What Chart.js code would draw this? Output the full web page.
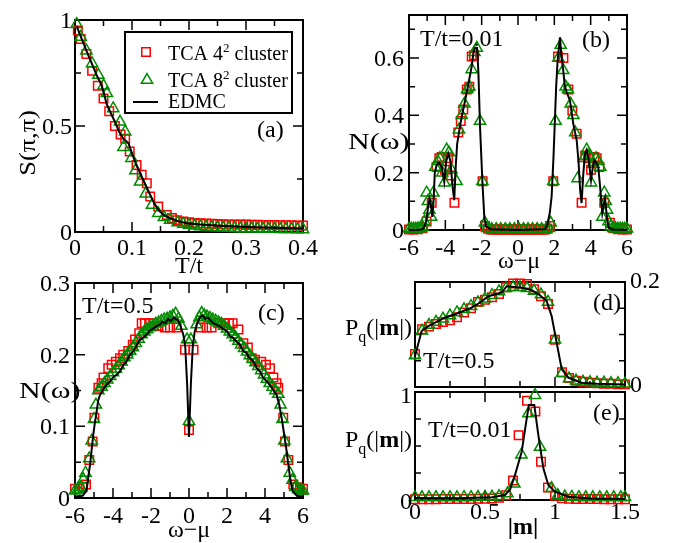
<!DOCTYPE html>
<html>
<head>
<meta charset="utf-8">
<title>Spin structure factor, density of states and P(|m|)</title>
<script src="https://cdn.jsdelivr.net/npm/chart.js@4.4.1/dist/chart.umd.min.js"></script>
<style>
  html, body { margin: 0; padding: 0; background: #fff; }
  #fig { position: relative; width: 674px; height: 543px; overflow: hidden; }
  #fig canvas { position: absolute; left: 0; top: 0; }
</style>
</head>
<body>
<div id="fig">
  <canvas id="panelA" width="674" height="543"></canvas>
  <canvas id="panelB" width="674" height="543"></canvas>
  <canvas id="panelC" width="674" height="543"></canvas>
  <canvas id="panelD" width="674" height="543"></canvas>
  <canvas id="panelE" width="674" height="543"></canvas>
</div>
<script>
const W = 674, H = 543;
const SERIF = '"Liberation Serif", "Times New Roman", serif';
const RED = '#ff0000';
const GREEN = '#008b00';
const FONT = 24;
const MAJOR = 10, MINOR = 6;

// (a) S(pi,pi) vs T/t
const aXTicks = [0, 0.1, 0.2, 0.3, 0.4];
const aXMinor = [0.05, 0.15, 0.25, 0.35];
const aYTicks = [0, 0.5, 1];
const aYMinor = [0.25, 0.75];
const aRed = [
  [0.005, 0.95], [0.01, 0.91], [0.02, 0.84], [0.03, 0.76], [0.04, 0.69], [0.05, 0.63],
  [0.06, 0.57], [0.07, 0.50], [0.08, 0.46], [0.088, 0.44], [0.096, 0.38], [0.108, 0.316],
  [0.117, 0.27], [0.126, 0.23], [0.132, 0.167], [0.146, 0.12], [0.161, 0.08], [0.17, 0.066],
  [0.179, 0.056], [0.19, 0.05], [0.20, 0.046], [0.21, 0.043], [0.22, 0.041], [0.23, 0.040],
  [0.24, 0.039], [0.25, 0.038], [0.26, 0.037], [0.27, 0.036], [0.28, 0.036], [0.29, 0.035],
  [0.30, 0.035], [0.31, 0.034], [0.32, 0.034], [0.33, 0.033], [0.34, 0.033], [0.35, 0.033],
  [0.36, 0.032], [0.37, 0.032], [0.38, 0.032], [0.39, 0.031], [0.40, 0.031]
];
const aGreen = [
  [0.003, 0.98], [0.01, 0.92], [0.02, 0.855], [0.03, 0.795], [0.041, 0.74], [0.05, 0.69],
  [0.056, 0.654], [0.067, 0.583], [0.079, 0.52], [0.088, 0.473], [0.085, 0.40], [0.099, 0.348],
  [0.106, 0.29], [0.114, 0.237], [0.124, 0.18], [0.135, 0.127], [0.146, 0.088], [0.156, 0.07],
  [0.167, 0.057], [0.18, 0.045], [0.19, 0.038], [0.20, 0.033], [0.21, 0.029], [0.22, 0.026],
  [0.23, 0.024], [0.24, 0.022], [0.25, 0.021], [0.26, 0.020], [0.27, 0.019], [0.28, 0.018],
  [0.29, 0.017], [0.30, 0.016], [0.31, 0.016], [0.32, 0.015], [0.33, 0.015], [0.34, 0.014],
  [0.35, 0.014], [0.36, 0.013], [0.37, 0.013], [0.38, 0.013], [0.39, 0.012], [0.40, 0.012]
];
const aLine = [
  [0.003, 0.97], [0.02, 0.855], [0.038, 0.74], [0.047, 0.69], [0.056, 0.60], [0.07, 0.52],
  [0.078, 0.47], [0.085, 0.44], [0.094, 0.418], [0.1, 0.37], [0.108, 0.316], [0.12, 0.245],
  [0.132, 0.175], [0.14, 0.13], [0.149, 0.096], [0.158, 0.076], [0.167, 0.065], [0.18, 0.052],
  [0.196, 0.041], [0.22, 0.035], [0.254, 0.03], [0.3, 0.024], [0.35, 0.02], [0.4, 0.017]
];

// (b) N(w) at T/t=0.01
const bXTicks = [-6, -4, -2, 0, 2, 4, 6];
const bXMinor = [-5, -3, -1, 1, 3, 5];
const bYTicks = [0, 0.2, 0.4, 0.6];
const bYMinor = [0.1, 0.3, 0.5, 0.7];
const bRed = [
  [-6.0, 0.002], [-5.75, 0.002], [-5.5, 0.003], [-5.25, 0.006], [-5.03, 0.03], [-4.75, 0.095],
  [-4.48, 0.22], [-4.33, 0.25], [-4.2, 0.255], [-4.02, 0.21], [-3.85, 0.25], [-3.68, 0.19],
  [-3.5, 0.095], [-3.29, 0.34], [-3.15, 0.38], [-3.01, 0.42], [-2.82, 0.49], [-2.68, 0.5],
  [-2.55, 0.605], [-2.42, 0.61], [-1.95, 0.17], [-1.82, 0.014], [-1.65, 0.004], [-1.5, 0.002],
  [-1.375, 0.002], [-1.25, 0.002], [-1.125, 0.002], [-1.0, 0.002], [-0.875, 0.002], [-0.75, 0.002],
  [-0.625, 0.002], [-0.5, 0.002], [-0.375, 0.002], [-0.25, 0.002], [-0.125, 0.002], [0, 0.002],
  [0.125, 0.002], [0.25, 0.002], [0.375, 0.002], [0.5, 0.002], [0.625, 0.002], [0.75, 0.002],
  [0.875, 0.002], [1.0, 0.002], [1.125, 0.002], [1.25, 0.002], [1.375, 0.002], [1.5, 0.002],
  [1.62, 0.004], [1.76, 0.014], [1.94, 0.17], [2.2, 0.605], [2.5, 0.6], [2.77, 0.49],
  [2.99, 0.417], [3.23, 0.336], [3.5, 0.095], [3.7, 0.26], [3.87, 0.25], [4.02, 0.21],
  [4.2, 0.255], [4.33, 0.25], [4.48, 0.22], [4.75, 0.095], [5.06, 0.025], [5.25, 0.006],
  [5.5, 0.003], [5.75, 0.002], [6.0, 0.002]
];
const bGreen = [
  [-6.0, 0.004], [-5.875, 0.004], [-5.75, 0.004], [-5.625, 0.004], [-5.5, 0.005], [-5.375, 0.006],
  [-5.25, 0.01], [-5.15, 0.03], [-5.03, 0.13], [-4.96, 0.1], [-4.88, 0.07], [-4.78, 0.045],
  [-4.66, 0.13], [-4.55, 0.22], [-4.42, 0.24], [-4.3, 0.25], [-4.17, 0.2], [-4.05, 0.165],
  [-3.93, 0.28], [-3.8, 0.27], [-3.66, 0.21], [-3.38, 0.17], [-3.25, 0.35], [-3.1, 0.4],
  [-2.95, 0.44], [-2.8, 0.49], [-2.68, 0.5], [-2.55, 0.56], [-2.4, 0.62], [-2.27, 0.635],
  [-2.09, 0.38], [-1.96, 0.17], [-1.82, 0.025], [-1.7, 0.006], [-1.45, 0.003], [-1.2, 0.003],
  [-0.95, 0.003], [-0.7, 0.003], [-0.45, 0.003], [-0.2, 0.003], [0.05, 0.003], [0.3, 0.003],
  [0.55, 0.003], [0.8, 0.003], [1.05, 0.003], [1.3, 0.003], [1.55, 0.003], [1.7, 0.006],
  [1.8, 0.025], [1.94, 0.17], [2.07, 0.38], [2.22, 0.6], [2.35, 0.645], [2.49, 0.557],
  [2.62, 0.5], [2.75, 0.49], [2.9, 0.44], [3.05, 0.4], [3.15, 0.34], [3.28, 0.18],
  [3.62, 0.25], [3.78, 0.28], [3.9, 0.26], [4.02, 0.165], [4.15, 0.23], [4.3, 0.25],
  [4.42, 0.24], [4.53, 0.22], [4.64, 0.045], [4.75, 0.13], [4.83, 0.1], [4.9, 0.07],
  [4.98, 0.03], [5.1, 0.012], [5.25, 0.006], [5.375, 0.005], [5.5, 0.004], [5.625, 0.004],
  [5.75, 0.004], [5.875, 0.004], [6.0, 0.004]
];
const bLine = [
  [-6, 0], [-5.4, 0.001], [-5.2, 0.005], [-5.05, 0.03], [-4.95, 0.08], [-4.87, 0.11],
  [-4.8, 0.09], [-4.72, 0.046], [-4.65, 0.1], [-4.58, 0.2], [-4.48, 0.226], [-4.35, 0.235],
  [-4.2, 0.22], [-4.06, 0.168], [-3.95, 0.24], [-3.84, 0.267], [-3.72, 0.24], [-3.6, 0.15],
  [-3.51, 0.104], [-3.43, 0.22], [-3.35, 0.3], [-3.2, 0.36], [-3.1, 0.394], [-2.95, 0.44],
  [-2.82, 0.48], [-2.7, 0.52], [-2.55, 0.57], [-2.45, 0.62], [-2.38, 0.635], [-2.25, 0.635],
  [-2.18, 0.55], [-2.09, 0.36], [-1.96, 0.168], [-1.85, 0.04], [-1.75, 0.012], [-1.5, 0.003],
  [0, 0], [1.5, 0.003], [1.62, 0.02], [1.75, 0.06], [1.85, 0.116], [1.95, 0.25],
  [2.03, 0.38], [2.1, 0.5], [2.18, 0.59], [2.31, 0.672], [2.4, 0.6], [2.49, 0.557],
  [2.58, 0.5], [2.68, 0.481], [2.86, 0.452], [3.04, 0.372], [3.23, 0.313], [3.33, 0.24],
  [3.42, 0.14], [3.5, 0.094], [3.6, 0.2], [3.69, 0.267], [3.78, 0.28], [3.9, 0.24],
  [4.02, 0.174], [4.12, 0.22], [4.2, 0.243], [4.3, 0.235], [4.42, 0.22], [4.52, 0.15],
  [4.64, 0.059], [4.72, 0.09], [4.79, 0.11], [4.87, 0.06], [4.97, 0.01], [5.2, 0.002], [6, 0]
];

// (c) N(w) at T/t=0.5
const cXTicks = [-6, -4, -2, 0, 2, 4, 6];
const cXMinor = [-5, -3, -1, 1, 3, 5];
const cYTicks = [0, 0.1, 0.2, 0.3];
const cYMinor = [0.05, 0.15, 0.25];
const cRed = [
  [-6.0, 0.013], [-5.77, 0.013], [-5.6, 0.015], [-5.42, 0.019], [-5.25, 0.053], [-5.07, 0.079],
  [-4.98, 0.112], [-4.77, 0.154], [-4.6, 0.16], [-4.5, 0.168], [-4.25, 0.181], [-4.07, 0.186],
  [-3.85, 0.19], [-3.63, 0.195], [-3.46, 0.2], [-3.2, 0.205], [-2.96, 0.214], [-2.84, 0.221],
  [-2.62, 0.23], [-2.49, 0.244], [-2.32, 0.244], [-2.1, 0.244], [-1.88, 0.244], [-1.6, 0.24],
  [-1.26, 0.238], [-1.0, 0.238], [-0.65, 0.238], [-0.21, 0.207], [0, 0.095], [0.24, 0.207],
  [0.61, 0.238], [0.93, 0.238], [1.19, 0.238], [1.54, 0.244], [1.89, 0.244], [2.1, 0.244],
  [2.3, 0.244], [2.6, 0.235], [2.86, 0.216], [3.1, 0.21], [3.3, 0.195], [3.47, 0.193],
  [3.8, 0.19], [4.05, 0.186], [4.26, 0.181], [4.44, 0.168], [4.6, 0.16], [4.7, 0.154],
  [4.96, 0.112], [5.05, 0.079], [5.23, 0.053], [5.49, 0.019], [5.7, 0.015], [5.84, 0.013],
  [6.0, 0.013]
];
const cGreen = [
  [-6.0, 0.01], [-5.85, 0.012], [-5.7, 0.015], [-5.56, 0.026], [-5.45, 0.035], [-5.25, 0.055],
  [-5.12, 0.08], [-5.0, 0.11], [-4.9, 0.13], [-4.77, 0.15], [-4.6, 0.155], [-4.45, 0.16],
  [-4.3, 0.165], [-4.15, 0.17], [-4.0, 0.175], [-3.85, 0.18], [-3.7, 0.185], [-3.55, 0.19],
  [-3.4, 0.196], [-3.25, 0.2], [-3.1, 0.205], [-2.95, 0.21], [-2.8, 0.216], [-2.65, 0.222],
  [-2.5, 0.228], [-2.35, 0.232], [-2.2, 0.235], [-2.05, 0.238], [-1.9, 0.24], [-1.75, 0.243],
  [-1.6, 0.245], [-1.45, 0.247], [-1.3, 0.249], [-1.15, 0.25], [-1.0, 0.252], [-0.85, 0.254],
  [-0.7, 0.257], [-0.55, 0.25], [-0.4, 0.24], [-0.1, 0.221], [0, 0.107], [0.1, 0.221],
  [0.4, 0.242], [0.55, 0.252], [0.67, 0.258], [0.8, 0.255], [0.95, 0.253], [1.1, 0.251],
  [1.25, 0.249], [1.4, 0.247], [1.55, 0.245], [1.7, 0.243], [1.85, 0.24], [2.0, 0.236],
  [2.15, 0.232], [2.3, 0.228], [2.45, 0.224], [2.6, 0.219], [2.75, 0.214], [2.9, 0.209],
  [3.05, 0.204], [3.2, 0.199], [3.35, 0.194], [3.5, 0.189], [3.65, 0.184], [3.8, 0.178],
  [3.95, 0.172], [4.1, 0.166], [4.25, 0.16], [4.4, 0.155], [4.55, 0.15], [4.7, 0.145],
  [4.82, 0.13], [4.92, 0.11], [5.02, 0.08], [5.15, 0.055], [5.3, 0.035], [5.45, 0.025],
  [5.6, 0.015], [5.75, 0.012], [5.9, 0.01], [6.0, 0.01]
];
const cLine = [
  [-6, 0.002], [-5.6, 0.003], [-5.45, 0.008], [-5.38, 0.012], [-5.3, 0.03], [-5.21, 0.046],
  [-5.12, 0.068], [-5.04, 0.088], [-4.95, 0.106], [-4.86, 0.121], [-4.78, 0.136], [-4.68, 0.144],
  [-4.5, 0.152], [-4.33, 0.158], [-4.15, 0.163], [-3.95, 0.17], [-3.8, 0.172], [-3.63, 0.177],
  [-3.45, 0.186], [-3.3, 0.19], [-3.1, 0.2], [-2.93, 0.205], [-2.75, 0.213], [-2.6, 0.22],
  [-2.4, 0.224], [-2.23, 0.228], [-2.05, 0.234], [-1.9, 0.236], [-1.7, 0.24], [-1.53, 0.242],
  [-1.4, 0.246], [-1.25, 0.244], [-1.1, 0.25], [-0.95, 0.247], [-0.82, 0.252], [-0.7, 0.25],
  [-0.55, 0.247], [-0.45, 0.24], [-0.3, 0.228], [-0.2, 0.212], [-0.1, 0.16], [0, 0.085],
  [0.1, 0.16], [0.2, 0.212], [0.3, 0.232], [0.45, 0.245], [0.58, 0.252], [0.72, 0.255],
  [0.85, 0.25], [1.0, 0.252], [1.15, 0.247], [1.28, 0.244], [1.45, 0.242], [1.6, 0.24],
  [1.8, 0.236], [1.98, 0.233], [2.15, 0.226], [2.3, 0.224], [2.5, 0.218], [2.68, 0.214],
  [2.85, 0.205], [3.0, 0.203], [3.2, 0.195], [3.38, 0.191], [3.55, 0.182], [3.75, 0.176],
  [3.9, 0.168], [4.09, 0.163], [4.3, 0.156], [4.45, 0.15], [4.61, 0.144], [4.75, 0.13],
  [4.88, 0.111], [5.0, 0.09], [5.14, 0.065], [5.25, 0.042], [5.35, 0.023], [5.45, 0.01],
  [5.67, 0.003], [6, 0.002]
];

// (d) P_q(|m|) at T/t=0.5
const dXTicks = [0, 0.5, 1, 1.5];
const dXMinor = [0.25, 0.75, 1.25];
const dYTicks = [0, 0.2];
const dYMinor = [0.05, 0.1, 0.15];
const dRed = [
  [0, 0.063], [0.05, 0.11], [0.1, 0.115], [0.15, 0.12], [0.2, 0.124], [0.25, 0.127],
  [0.3, 0.133], [0.35, 0.142], [0.4, 0.15], [0.45, 0.162], [0.5, 0.166], [0.55, 0.171],
  [0.6, 0.177], [0.65, 0.19], [0.7, 0.197], [0.75, 0.197], [0.8, 0.196], [0.85, 0.186],
  [0.9, 0.173], [0.95, 0.158], [1.0, 0.09], [1.05, 0.028], [1.1, 0.017], [1.15, 0.012],
  [1.2, 0.01], [1.25, 0.008], [1.3, 0.007], [1.35, 0.006], [1.4, 0.006], [1.45, 0.005], [1.5, 0.005]
];
const dGreen = [
  [0, 0.06], [0.05, 0.107], [0.1, 0.118], [0.15, 0.124], [0.2, 0.13], [0.25, 0.136],
  [0.3, 0.142], [0.35, 0.148], [0.4, 0.154], [0.45, 0.161], [0.5, 0.168], [0.55, 0.175],
  [0.6, 0.182], [0.65, 0.188], [0.7, 0.19], [0.75, 0.19], [0.8, 0.188], [0.85, 0.183],
  [0.9, 0.176], [0.95, 0.162], [1.0, 0.09], [1.05, 0.026], [1.1, 0.016], [1.15, 0.012],
  [1.2, 0.01], [1.25, 0.009], [1.3, 0.008], [1.35, 0.008], [1.4, 0.007], [1.45, 0.007], [1.5, 0.006]
];
const dLine = [
  [0, 0.059], [0.048, 0.107], [0.095, 0.116], [0.214, 0.132], [0.3, 0.14], [0.405, 0.151],
  [0.46, 0.16], [0.524, 0.173], [0.619, 0.18], [0.655, 0.192], [0.762, 0.189], [0.83, 0.185],
  [0.881, 0.177], [0.94, 0.164], [0.976, 0.135], [1.012, 0.084], [1.048, 0.034], [1.095, 0.018],
  [1.19, 0.008], [1.3, 0.006], [1.5, 0.005]
];

// (e) P_q(|m|) at T/t=0.01
const eXTicks = [0, 0.5, 1, 1.5];
const eXMinor = [0.25, 0.75, 1.25];
const eYTicks = [0, 1];
const eYMinor = [0.25, 0.5, 0.75];
const eRed = [
  [0, 0.008], [0.05, 0.008], [0.1, 0.008], [0.15, 0.008], [0.2, 0.009], [0.25, 0.009],
  [0.3, 0.009], [0.35, 0.01], [0.4, 0.01], [0.45, 0.011], [0.5, 0.012], [0.55, 0.014],
  [0.6, 0.02], [0.65, 0.045], [0.7, 0.18], [0.74, 0.6], [0.8, 0.92], [0.86, 0.82],
  [0.9, 0.355], [0.95, 0.115], [1.0, 0.04], [1.05, 0.016], [1.1, 0.012], [1.15, 0.01],
  [1.2, 0.01], [1.25, 0.009], [1.3, 0.009], [1.35, 0.008], [1.4, 0.008], [1.45, 0.008], [1.5, 0.008]
];
const eGreen = [
  [0, 0.025], [0.05, 0.025], [0.1, 0.025], [0.15, 0.025], [0.2, 0.025], [0.25, 0.025],
  [0.3, 0.025], [0.35, 0.026], [0.4, 0.026], [0.45, 0.027], [0.5, 0.028], [0.55, 0.03],
  [0.6, 0.035], [0.66, 0.06], [0.71, 0.15], [0.76, 0.42], [0.81, 0.8], [0.857, 0.97],
  [0.893, 0.49], [0.976, 0.108], [1.02, 0.045], [1.07, 0.032], [1.12, 0.028], [1.17, 0.026],
  [1.22, 0.025], [1.27, 0.025], [1.32, 0.025], [1.37, 0.025], [1.42, 0.025], [1.47, 0.025], [1.5, 0.025]
];
const eLine = [
  [0, 0.018], [0.3, 0.016], [0.55, 0.025], [0.643, 0.046], [0.68, 0.1], [0.714, 0.23],
  [0.762, 0.447], [0.798, 0.756], [0.814, 0.88], [0.852, 0.88], [0.881, 0.6], [0.917, 0.293],
  [0.952, 0.139], [1.0, 0.077], [1.095, 0.03], [1.26, 0.015], [1.5, 0.01]
];

function pts(pairs) {
  return pairs.map(p => ({ x: p[0], y: p[1] }));
}

function fontOf(size, bold) {
  return (bold ? 'bold ' : '') + size + 'px ' + SERIF;
}

// draws text made of parts: normal, subscript, superscript or bold runs
function drawRich(ctx, item) {
  const size = item.size || FONT;
  const sx = item.stretch || 1;
  const parts = typeof item.text === 'string' ? [{ t: item.text }] : item.text;
  const runs = parts.map(p => {
    const s = p.sub || p.sup ? Math.round(size * 0.65) : size;
    ctx.font = fontOf(s, p.bold || item.bold);
    return { t: p.t, font: ctx.font, w: ctx.measureText(p.t).width,
             dy: p.sub ? size * 0.28 : p.sup ? -size * 0.42 : 0 };
  });
  const total = runs.reduce((s, r) => s + r.w, 0);
  ctx.save();
  ctx.fillStyle = '#000';
  ctx.textBaseline = 'alphabetic';
  ctx.translate(item.x, item.y);
  if (item.rotate) ctx.rotate(-Math.PI / 2);
  ctx.scale(sx, 1);
  let x = item.align === 'center' ? -total / 2 : item.align === 'right' ? -total : 0;
  runs.forEach(r => {
    ctx.font = r.font;
    ctx.fillText(r.t, x, r.dy);
    x += r.w;
  });
  ctx.restore();
}

function textLayer(items) {
  return {
    id: 'textLayer',
    afterDraw(chart) {
      items.forEach(item => drawRich(chart.ctx, item));
    }
  };
}

// box frame with inward ticks on all four sides, plus the tick labels
function frameTicks(cfg) {
  return {
    id: 'frameTicks',
    beforeDatasetsDraw(chart) {
      const { ctx, chartArea: a, scales } = chart;
      ctx.save();
      ctx.strokeStyle = '#000';
      ctx.lineWidth = 1.5;
      ctx.beginPath();
      ['x', 'y'].forEach(k => {
        const s = scales[k];
        const marks = cfg[k].ticks.map(v => [v, MAJOR]).concat(cfg[k].minor.map(v => [v, MINOR]));
        marks.forEach(([v, len]) => {
          const p = s.getPixelForValue(v);
          if (k === 'x') {
            ctx.moveTo(p, a.bottom); ctx.lineTo(p, a.bottom - len);
            ctx.moveTo(p, a.top); ctx.lineTo(p, a.top + len);
          } else {
            ctx.moveTo(a.left, p); ctx.lineTo(a.left + len, p);
            ctx.moveTo(a.right, p); ctx.lineTo(a.right - len, p);
          }
        });
      });
      ctx.stroke();
      ctx.lineWidth = 2;
      ctx.strokeRect(a.left, a.top, a.right - a.left, a.bottom - a.top);
      ctx.restore();
    },
    afterDraw(chart) {
      const { ctx, chartArea: a, scales } = chart;
      if (cfg.x.labels !== false) {
        cfg.x.ticks.forEach(v => {
          drawRich(ctx, { x: scales.x.getPixelForValue(v), y: a.bottom + cfg.x.base, text: String(v), align: 'center' });
        });
      }
      const right = cfg.y.position === 'right';
      cfg.y.ticks.forEach((v, i) => {
        const dy = cfg.y.dy ? cfg.y.dy[i] : 8;
        drawRich(ctx, {
          x: right ? a.right + cfg.y.gap : a.left - cfg.y.gap,
          y: scales.y.getPixelForValue(v) + dy,
          text: String(v), align: right ? 'left' : 'right'
        });
      });
    }
  };
}

// legend of panel (a)
const legendBox = {
  id: 'legendBox',
  afterDraw(chart) {
    const ctx = chart.ctx;
    ctx.save();
    ctx.lineWidth = 2;
    ctx.strokeStyle = '#000';
    ctx.strokeRect(125, 32, 167, 81);
    ctx.fillStyle = 'rgba(0,0,0,0)';
    ctx.lineWidth = 1.5;
    ctx.strokeStyle = RED;
    Chart.helpers.drawPoint(ctx, { pointStyle: 'rect', radius: 6, rotation: 0, borderWidth: 1.5 }, 146, 52);
    ctx.strokeStyle = GREEN;
    Chart.helpers.drawPoint(ctx, { pointStyle: 'triangle', radius: 6.5, rotation: 0, borderWidth: 1.5 }, 147, 80);
    ctx.strokeStyle = '#000';
    ctx.lineWidth = 2;
    ctx.beginPath();
    ctx.moveTo(133, 102);
    ctx.lineTo(158, 102);
    ctx.stroke();
    ctx.restore();
    const size = 20;
    drawRich(ctx, { x: 168, y: 60, size, text: [{ t: 'TCA 4' }, { t: '2', sup: true }, { t: ' cluster' }] });
    drawRich(ctx, { x: 168, y: 87, size, text: [{ t: 'TCA 8' }, { t: '2', sup: true }, { t: ' cluster' }] });
    drawRich(ctx, { x: 168, y: 108, size, text: 'EDMC' });
  }
};

function makePanel(id, cfg) {
  const [l, t, r, b] = cfg.frame;
  const yRight = cfg.y.position === 'right';
  const marker = (data, style, color, order, label) => ({
    label, data: pts(data), pointStyle: style, pointRadius: style === 'triangle' ? 6.5 : 6,
    pointBorderWidth: 1.5, borderColor: color, backgroundColor: 'rgba(0,0,0,0)',
    order, clip: false
  });
  return new Chart(document.getElementById(id), {
    type: 'scatter',
    data: {
      datasets: [
        { label: 'EDMC', data: pts(cfg.line), showLine: true, borderColor: '#000',
          borderWidth: 2, pointRadius: 0, order: 0, clip: false },
        marker(cfg.green, 'triangle', GREEN, 1, 'TCA 8² cluster'),
        marker(cfg.red, 'rect', RED, 2, 'TCA 4² cluster')
      ]
    },
    options: {
      responsive: false,
      animation: false,
      events: [],
      layout: { padding: { left: yRight ? l : 0, right: yRight ? 0 : W - r, top: t, bottom: 0 } },
      plugins: { legend: { display: false }, tooltip: { enabled: false } },
      scales: {
        x: {
          type: 'linear', min: cfg.x.min, max: cfg.x.max,
          grid: { display: false }, border: { display: false }, ticks: { display: false },
          afterBuildTicks: s => { s.ticks = cfg.x.ticks.map(v => ({ value: v })); },
          afterFit: s => { s.height = H - b; }
        },
        y: {
          type: 'linear', position: yRight ? 'right' : 'left', min: cfg.y.min, max: cfg.y.max,
          grid: { display: false }, border: { display: false }, ticks: { display: false },
          afterBuildTicks: s => { s.ticks = cfg.y.ticks.map(v => ({ value: v })); },
          afterFit: s => { s.width = yRight ? W - r : l; }
        }
      }
    },
    plugins: [frameTicks(cfg), textLayer(cfg.texts)].concat(cfg.extra || [])
  });
}

const NW = [{ t: 'N(ω)' }];
const PQ = [{ t: 'P' }, { t: 'q', sub: true }, { t: '(|' }, { t: 'm', bold: true }, { t: '|)' }];

makePanel('panelA', {
  frame: [75, 20, 303, 232],
  x: { min: 0, max: 0.4, ticks: aXTicks, minor: aXMinor, base: 23 },
  y: { min: 0, max: 1, ticks: aYTicks, minor: aYMinor, gap: 3 },
  red: aRed, green: aGreen, line: aLine,
  texts: [
    { x: 35, y: 143, text: 'S(π,π)', rotate: true, align: 'center', stretch: 1.1 },
    { x: 189, y: 273, text: 'T/t', align: 'center' },
    { x: 257, y: 137, text: '(a)' }
  ],
  extra: [legendBox]
});

makePanel('panelB', {
  frame: [409, 15, 627, 230],
  x: { min: -6, max: 6, ticks: bXTicks, minor: bXMinor, base: 25 },
  y: { min: 0, max: 0.75, ticks: bYTicks, minor: bYMinor, gap: 5 },
  red: bRed, green: bGreen, line: bLine,
  texts: [
    { x: 348, y: 149, text: NW, stretch: 1.25 },
    { x: 420, y: 46, text: 'T/t=0.01' },
    { x: 582, y: 47, text: '(b)' },
    { x: 519, y: 268, text: 'ω−μ', align: 'center' }
  ]
});

makePanel('panelC', {
  frame: [75, 283, 303, 498],
  x: { min: -6, max: 6, ticks: cXTicks, minor: cXMinor, base: 25 },
  y: { min: 0, max: 0.3, ticks: cYTicks, minor: cYMinor, gap: 5 },
  red: cRed, green: cGreen, line: cLine,
  texts: [
    { x: 19, y: 398, text: NW, stretch: 1.25 },
    { x: 82, y: 313, text: 'T/t=0.5' },
    { x: 258, y: 320, text: '(c)' },
    { x: 189, y: 537, text: 'ω−μ', align: 'center' }
  ]
});

makePanel('panelD', {
  frame: [415, 282, 625, 387],
  x: { min: 0, max: 1.5, ticks: dXTicks, minor: dXMinor, labels: false },
  y: { min: 0, max: 0.2, ticks: dYTicks, minor: dYMinor, position: 'right', gap: 5, dy: [5, 6] },
  red: dRed, green: dGreen, line: dLine,
  texts: [
    { x: 345, y: 335, text: PQ },
    { x: 423, y: 368, text: 'T/t=0.5' },
    { x: 593, y: 310, text: '(d)' }
  ]
});

makePanel('panelE', {
  frame: [415, 392, 625, 500],
  x: { min: 0, max: 1.5, ticks: eXTicks, minor: eXMinor, base: 19 },
  y: { min: 0, max: 1, ticks: eYTicks, minor: eYMinor, gap: 3, dy: [9, 11] },
  red: eRed, green: eGreen, line: eLine,
  texts: [
    { x: 345, y: 447, text: PQ },
    { x: 428, y: 437, text: 'T/t=0.01' },
    { x: 593, y: 420, text: '(e)' },
    { x: 523, y: 534, text: '|m|', align: 'center', bold: true }
  ]
});
</script>
</body>
</html>
